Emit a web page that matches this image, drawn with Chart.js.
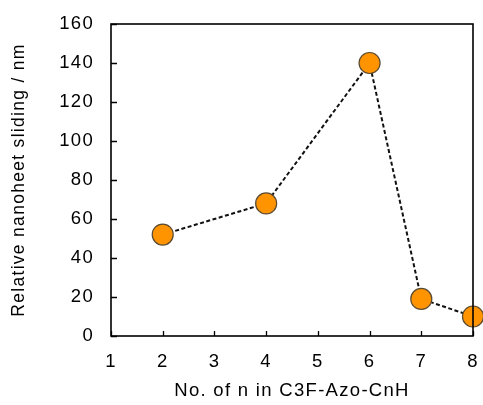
<!DOCTYPE html>
<html>
<head>
<meta charset="utf-8">
<script src="https://cdn.jsdelivr.net/npm/chart.js@4/dist/chart.umd.min.js"></script>
<style>
html,body{margin:0;padding:0;background:#fff;}
#wrap{width:483px;height:405px;position:relative;}
</style>
</head>
<body>
<div id="wrap"><canvas id="c" width="483" height="405"></canvas></div>
<script>
const nValues = [2, 4, 6, 7, 8];
const sliding = [52, 68, 140, 19, 10];
const xTicks = [1, 2, 3, 4, 5, 6, 7, 8];
const yTicks = [0, 20, 40, 60, 80, 100, 120, 140, 160];
const xTitle = 'No. of n in C3F-Azo-CnH';
const yTitle = 'Relative nanoheet sliding / nm';

const FONT = "'Liberation Sans', Arial, sans-serif";
const FS = 18.5;

const spacing = {
  id: 'spacing',
  beforeLayout(chart) { chart.ctx.letterSpacing = '1.3px'; },
  beforeDraw(chart) { chart.ctx.letterSpacing = '1.3px'; }
};

const frame = {
  id: 'frame',
  afterDraw(chart) {
    const {ctx, chartArea: a, scales} = chart;
    ctx.save();
    ctx.strokeStyle = '#000';
    ctx.lineWidth = 1.6;
    ctx.strokeRect(a.left, a.top, a.right - a.left, a.bottom - a.top);
    ctx.lineWidth = 1.3;
    ctx.beginPath();
    xTicks.forEach(v => {
      const px = Math.round(scales.x.getPixelForValue(v)) + 0.5;
      ctx.moveTo(px, a.bottom);
      ctx.lineTo(px, a.bottom - 5);
    });
    yTicks.forEach(v => {
      const py = Math.round(scales.y.getPixelForValue(v)) + 0.5;
      ctx.moveTo(a.left, py);
      ctx.lineTo(a.left + 6, py);
    });
    ctx.stroke();
    ctx.restore();
  }
};

new Chart(document.getElementById('c'), {
  type: 'scatter',
  data: {
    datasets: [{
      data: nValues.map((n, i) => ({x: n, y: sliding[i]})),
      showLine: true,
      borderColor: '#111',
      borderWidth: 2,
      borderDash: [4, 2.5],
      pointRadius: 10.5,
      pointHoverRadius: 10.5,
      pointBackgroundColor: '#FF9400',
      pointBorderColor: '#5a4a30',
      pointBorderWidth: 1.2,
      clip: false
    }]
  },
  options: {
    responsive: false,
    animation: false,
    layout: {autoPadding: false, padding: {top: 24, right: 10, left: 0, bottom: 0}},
    plugins: {legend: {display: false}, tooltip: {enabled: false}},
    scales: {
      x: {
        type: 'linear', min: 1, max: 8,
        afterBuildTicks: s => { s.ticks = xTicks.map(v => ({value: v})); },
        afterFit: s => { s.height = 69; s.paddingLeft = 0; s.paddingRight = 0; },
        grid: {display: false, drawTicks: false},
        border: {display: false},
        ticks: {color: '#000', font: {family: FONT, size: FS}, padding: 15},
        title: {display: true, text: xTitle, color: '#000', font: {family: FONT, size: FS}, padding: {top: 0, bottom: 3}}
      },
      y: {
        type: 'linear', min: 0, max: 160,
        afterBuildTicks: s => { s.ticks = yTicks.map(v => ({value: v})); },
        afterFit: s => { s.width = 111; s.paddingTop = 0; s.paddingBottom = 0; },
        grid: {display: false, drawTicks: false},
        border: {display: false},
        ticks: {color: '#000', font: {family: FONT, size: FS}, padding: 17},
        title: {display: true, text: yTitle, color: '#000', font: {family: FONT, size: 17.5}, padding: {top: 9, bottom: 0}}
      }
    }
  },
  plugins: [spacing, frame]
});
</script>
</body>
</html>
